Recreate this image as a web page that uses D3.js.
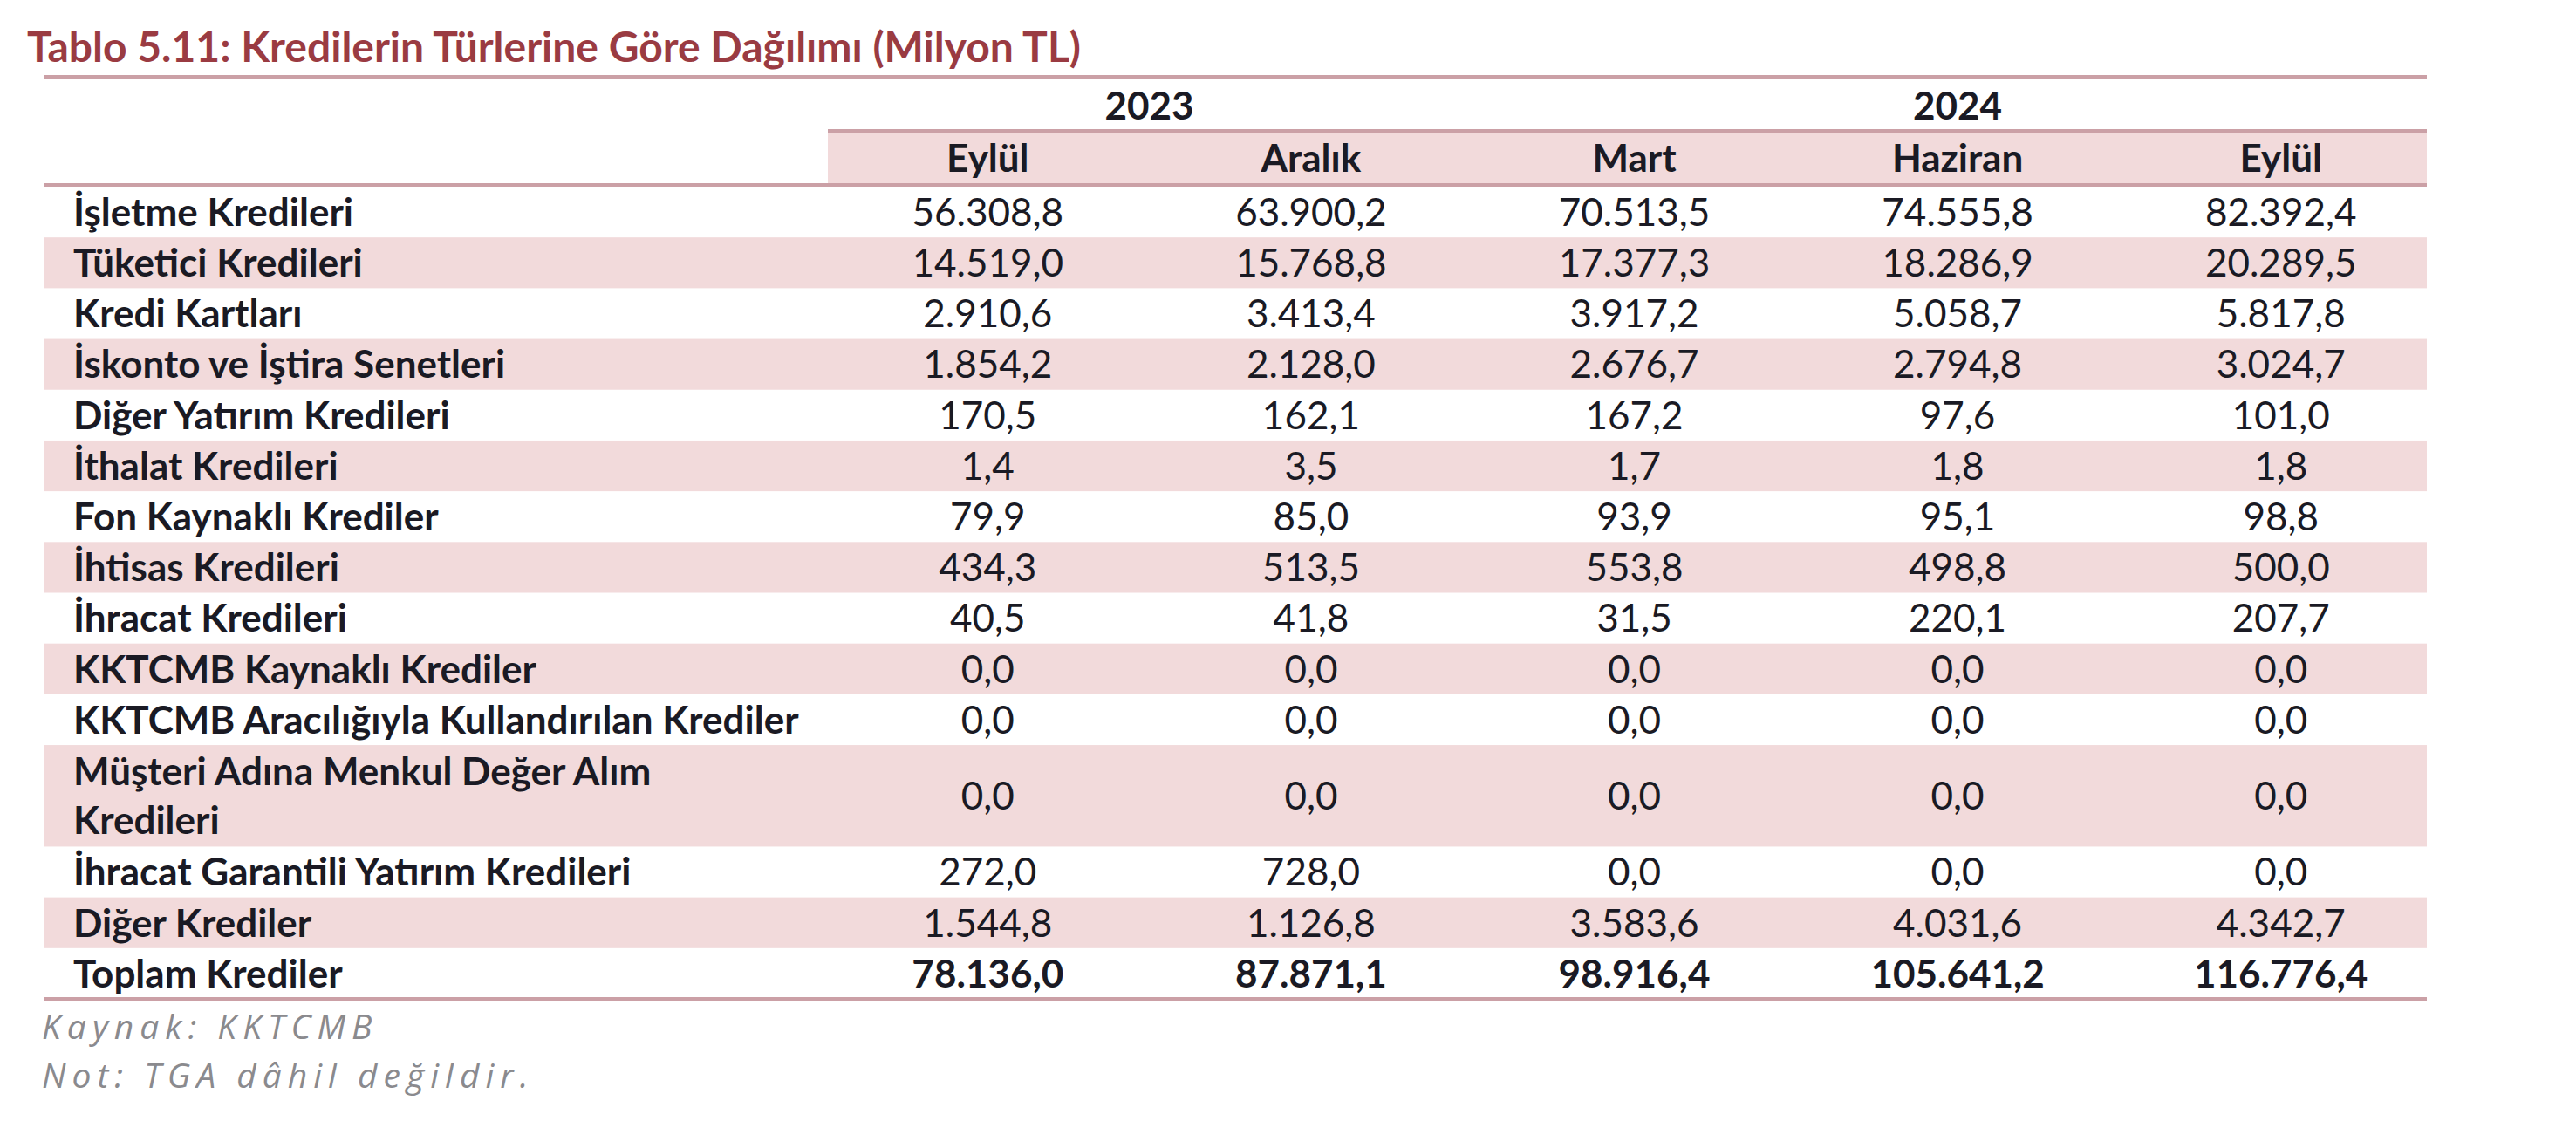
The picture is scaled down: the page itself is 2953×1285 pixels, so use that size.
<!DOCTYPE html>
<html>
<head>
<meta charset="utf-8">
<script src="https://cdn.jsdelivr.net/npm/d3@7"></script>
<style>
  html, body { margin: 0; padding: 0; background: #ffffff; }
  svg { display: block; }
</style>
</head>
<body>
<svg id="chart" width="2953" height="1285"></svg>
<script>
// ---------------- DATA ----------------
const title = "Tablo 5.11: Kredilerin Türlerine Göre Dağılımı (Milyon TL)";
const years = ["2023", "2024"];
const periods = ["2023-09", "2023-12", "2024-03", "2024-06", "2024-09"];
const periodYear = ["2023", "2023", "2024", "2024", "2024"];
const months = ["Eylül", "Aralık", "Mart", "Haziran", "Eylül"];
const categories = [
  "İşletme Kredileri",
  "Tüketici Kredileri",
  "Kredi Kartları",
  "İskonto ve İştira Senetleri",
  "Diğer Yatırım Kredileri",
  "İthalat Kredileri",
  "Fon Kaynaklı Krediler",
  "İhtisas Kredileri",
  "İhracat Kredileri",
  "KKTCMB Kaynaklı Krediler",
  "KKTCMB Aracılığıyla Kullandırılan Krediler",
  "Müşteri Adına Menkul Değer Alım\nKredileri",
  "İhracat Garantili Yatırım Kredileri",
  "Diğer Krediler",
  "Toplam Krediler"
];
const eylul2023   = [56308.8, 14519.0, 2910.6, 1854.2, 170.5, 1.4, 79.9, 434.3, 40.5, 0.0, 0.0, 0.0, 272.0, 1544.8, 78136.0];
const aralik2023  = [63900.2, 15768.8, 3413.4, 2128.0, 162.1, 3.5, 85.0, 513.5, 41.8, 0.0, 0.0, 0.0, 728.0, 1126.8, 87871.1];
const mart2024    = [70513.5, 17377.3, 3917.2, 2676.7, 167.2, 1.7, 93.9, 553.8, 31.5, 0.0, 0.0, 0.0, 0.0, 3583.6, 98916.4];
const haziran2024 = [74555.8, 18286.9, 5058.7, 2794.8, 97.6, 1.8, 95.1, 498.8, 220.1, 0.0, 0.0, 0.0, 0.0, 4031.6, 105641.2];
const eylul2024   = [82392.4, 20289.5, 5817.8, 3024.7, 101.0, 1.8, 98.8, 500.0, 207.7, 0.0, 0.0, 0.0, 0.0, 4342.7, 116776.4];
const seriesValues = [eylul2023, aralik2023, mart2024, haziran2024, eylul2024];
const totalRowLabel = "Toplam Krediler";
const notes = ["Kaynak: KKTCMB", "Not: TGA dâhil değildir."];

// ---------------- STYLE / LAYOUT ----------------
const FONT = "Lato, 'Open Sans', sans-serif";
const FS = 44;
const TITLE_FS = 48;
const TEXT = "#1a1a24";
const TITLE_COLOR = "#9a3b42";
const LINE = "#cba0a6";
const PINK = "#f2dadb";

const tableLeft = 50, tableRight = 2782;
const headerBandLeft = 949;
const labelX = 84;

const svg = d3.select("#chart");
const trTR = d3.formatLocale({decimal: ",", thousands: ".", grouping: [3], currency: ["", " TL"]});
const fmt = trTR.format(",.1f");

// rows: number of text lines determines height units
const rows = categories.map((c, i) => ({
  label: c,
  lines: c.split("\n"),
  values: seriesValues.map(s => s[i]),
  total: c === totalRowLabel,
  index: i
}));
let acc = 0;
rows.forEach(r => { r.u0 = acc; acc += r.lines.length; r.u1 = acc; });

const y = d3.scaleLinear().domain([0, acc]).range([214, 1145]);
const x = d3.scaleBand().domain(periods).range([947, 2800]);

// ---- title ----
svg.append("text")
  .attr("x", 31).attr("y", 71)
  .attr("font-family", FONT).attr("font-weight", 700).attr("font-size", TITLE_FS)
  .attr("fill", TITLE_COLOR)
  .text(title);

// ---- row stripes ----
svg.append("g").selectAll("rect")
  .data(rows.filter(r => r.index % 2 === 1))
  .join("rect")
  .attr("x", tableLeft + 1).attr("width", tableRight - tableLeft - 1)
  .attr("y", r => y(r.u0)).attr("height", r => y(r.u1) - y(r.u0))
  .attr("fill", PINK);

// ---- header band ----
svg.append("rect")
  .attr("x", headerBandLeft).attr("width", tableRight - headerBandLeft)
  .attr("y", 150).attr("height", 62)
  .attr("fill", PINK);

// ---- lines ----
const lines = [
  {x1: tableLeft, x2: tableRight, y: 88},
  {x1: headerBandLeft, x2: tableRight, y: 150},
  {x1: tableLeft, x2: tableRight, y: 212},
  {x1: tableLeft, x2: tableRight, y: 1145}
];
svg.append("g").selectAll("line").data(lines).join("line")
  .attr("x1", d => d.x1).attr("x2", d => d.x2)
  .attr("y1", d => d.y).attr("y2", d => d.y)
  .attr("stroke", LINE).attr("stroke-width", 4);

// ---- year header ----
const yearCenter = yr => {
  const cols = periods.filter((p, i) => periodYear[i] === yr);
  return (x(cols[0]) + x(cols[cols.length - 1]) + x.bandwidth()) / 2;
};
svg.append("g").selectAll("text").data(years).join("text")
  .attr("x", d => yearCenter(d)).attr("y", 137)
  .attr("text-anchor", "middle")
  .attr("font-family", FONT).attr("font-weight", 700).attr("font-size", FS)
  .attr("fill", TEXT)
  .text(d => d);

// ---- month header ----
svg.append("g").selectAll("text").data(periods).join("text")
  .attr("x", d => x(d) + x.bandwidth() / 2).attr("y", 197)
  .attr("text-anchor", "middle")
  .attr("font-family", FONT).attr("font-weight", 700).attr("font-size", FS)
  .attr("fill", TEXT)
  .text((d, i) => months[i]);

// ---- rows ----
const rowG = svg.append("g").selectAll("g").data(rows).join("g");
rowG.each(function(r) {
  const g = d3.select(this);
  const cy = (y(r.u0) + y(r.u1)) / 2;
  const lh = y(1) - y(0);
  const n = r.lines.length;
  r.lines.forEach((ln, k) => {
    g.append("text")
      .attr("x", labelX)
      .attr("y", cy + (k - (n - 1) / 2) * lh * 0.95)
      .attr("dy", "0.36em")
      .attr("font-family", FONT).attr("font-weight", 700).attr("font-size", FS)
      .attr("fill", TEXT)
      .text(ln);
  });
  g.selectAll("text.val").data(r.values).join("text")
    .attr("class", "val")
    .attr("x", (v, j) => x(periods[j]) + x.bandwidth() / 2)
    .attr("y", cy)
    .attr("dy", "0.36em")
    .attr("text-anchor", "middle")
    .attr("font-family", FONT).attr("font-weight", r.total ? 700 : 400).attr("font-size", FS)
    .attr("fill", TEXT)
    .text(v => fmt(v));
});

// ---- notes ----
svg.append("g").selectAll("text").data(notes).join("text")
  .attr("x", 48).attr("y", (d, i) => 1191 + i * 56)
  .attr("font-family", "'Open Sans', sans-serif").attr("font-style", "italic")
  .attr("font-size", 39).attr("letter-spacing", 7)
  .attr("fill", "#8a8a8e")
  .text(d => d);
</script>
</body>
</html>
